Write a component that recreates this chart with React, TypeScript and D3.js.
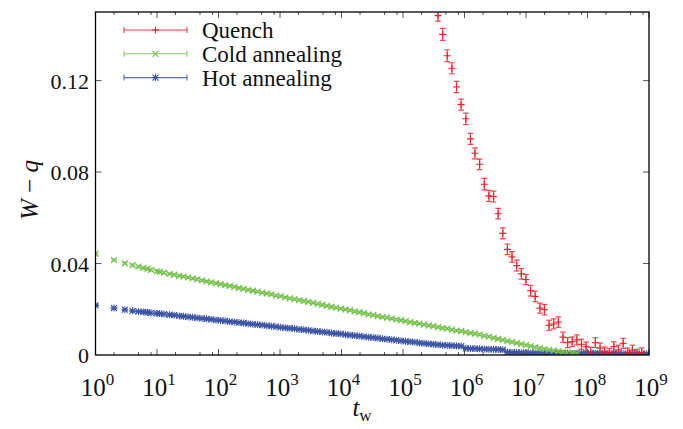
import React from "react";
import * as d3 from "d3";

// waiting times (shared grid)
const TW = [1,2,3,4,5,6,7,8,10,11,13,16,19,23,27,32,38,45,54,64,76,91,108,128,152,181,215,256,304,362,431,512,609,724,861,1024,1218,1448,1722,2048,2436,2896,3444,4096,4871,5793,6889,8192,9742,1.16e4,1.38e4,1.64e4,1.95e4,2.32e4,2.76e4,3.28e4,3.90e4,4.63e4,5.51e4,6.55e4,7.79e4,9.27e4,1.10e5,1.31e5,1.56e5,1.85e5,2.20e5,2.62e5,3.12e5,3.71e5,4.41e5,5.24e5,6.23e5,7.41e5,8.82e5,1.05e6,1.25e6,1.48e6,1.76e6,2.10e6,2.49e6,2.97e6,3.53e6,4.19e6,4.99e6,5.93e6,7.05e6,8.39e6,9.98e6,1.19e7,1.41e7,1.68e7,2.00e7,2.37e7,2.82e7,3.36e7,3.99e7,4.75e7,5.64e7,6.71e7,7.98e7,9.49e7,1.13e8,1.34e8,1.60e8,1.90e8,2.26e8,2.68e8,3.19e8,3.80e8,4.51e8,5.37e8,6.38e8,7.59e8,9.03e8];

const COLD_W = [0.0443,0.0415,0.0401,0.0393,0.0386,0.0381,0.0377,0.0372,0.0366,0.0364,0.0360,0.0355,0.0351,0.0346,0.0343,0.0339,0.0335,0.0331,0.0326,0.0322,0.0318,0.0314,0.0310,0.0306,0.0302,0.0298,0.0293,0.0289,0.0285,0.0281,0.0277,0.0273,0.0269,0.0265,0.0260,0.0257,0.0252,0.0248,0.0244,0.0240,0.0236,0.0232,0.0228,0.0224,0.0219,0.0215,0.0211,0.0207,0.0203,0.0199,0.0195,0.0191,0.0187,0.0183,0.0178,0.0174,0.0170,0.0166,0.0163,0.0159,0.0155,0.0152,0.0148,0.0144,0.0140,0.0137,0.0133,0.0129,0.0126,0.0122,0.0118,0.0115,0.0111,0.0107,0.0104,0.0100,0.0096,0.0093,0.0089,0.0084,0.0080,0.0075,0.0070,0.0066,0.0061,0.0057,0.0052,0.0048,0.0043,0.0039,0.0034,0.0030,0.0026,0.0022,0.0019,0.0016,0.0013,0.0010,0.0008,0.0006];

const HOT_W = [0.0217,0.0205,0.0198,0.0193,0.0190,0.0188,0.0186,0.0184,0.0182,0.0181,0.0179,0.0176,0.0174,0.0171,0.0169,0.0167,0.0165,0.0162,0.0160,0.0158,0.0156,0.0153,0.0151,0.0149,0.0146,0.0144,0.0142,0.0140,0.0137,0.0135,0.0133,0.0131,0.0128,0.0126,0.0124,0.0121,0.0119,0.0117,0.0115,0.0112,0.0110,0.0108,0.0105,0.0103,0.0101,0.0099,0.0096,0.0094,0.0092,0.0089,0.0087,0.0085,0.0083,0.0080,0.0078,0.0076,0.0074,0.0071,0.0069,0.0067,0.0065,0.0062,0.0060,0.0058,0.0056,0.0053,0.0051,0.0049,0.0047,0.0045,0.0043,0.0042,0.0041,0.0040,0.0039,0.0029,0.0028,0.0028,0.0027,0.0026,0.0025,0.0025,0.0024,0.0023,0.0012,0.0011,0.0011,0.0010,0.0010,0.0009,0.0009,0.0009,0.0008,0.0008,0.0008,0.0009,0.0008,0.0008,0.0007,0.0008,0.0008,0.0007,0.0007,0.0008,0.0007,0.0007,0.0006,0.0007,0.0007,0.0006,0.0006,0.0007,0.0006,0.0006,0.0006];

const QUENCH_T = [3.71e5,4.41e5,5.24e5,6.23e5,7.41e5,8.82e5,1.05e6,1.25e6,1.48e6,1.76e6,2.10e6,2.49e6,2.97e6,3.53e6,4.19e6,4.99e6,5.93e6,7.05e6,8.39e6,9.98e6,1.19e7,1.41e7,1.68e7,2.00e7,2.37e7,2.82e7,3.36e7,3.99e7,4.75e7,5.64e7,6.71e7,7.98e7,9.49e7,1.13e8,1.34e8,1.60e8,1.90e8,2.26e8,2.68e8,3.19e8,3.80e8,4.51e8,5.37e8,6.38e8,7.59e8];
const QUENCH_W = [0.1484,0.1402,0.1309,0.1254,0.1172,0.1095,0.1033,0.0945,0.0882,0.0834,0.0747,0.0696,0.0693,0.0618,0.0532,0.0462,0.0429,0.0391,0.0355,0.0330,0.0281,0.0256,0.0205,0.0198,0.0130,0.0136,0.0144,0.0078,0.0054,0.0058,0.0066,0.0047,0.0036,0.0012,0.0054,0.0030,0.0014,0.0008,0.0036,0.0022,0.0051,0.0010,0.0022,0.0004,0.0010];
const QUENCH_ERR = [0.0024,0.0026,0.0026,0.0024,0.0025,0.0024,0.0025,0.0024,0.0024,0.0023,0.0025,0.0024,0.0024,0.0023,0.0024,0.0023,0.0023,0.0024,0.0023,0.0022,0.0023,0.0023,0.0022,0.0023,0.0022,0.0022,0.0023,0.0022,0.0022,0.0021,0.0022,0.0022,0.0021,0.0022,0.0021,0.0022,0.0021,0.0021,0.0022,0.0021,0.0022,0.0021,0.0021,0.0021,0.0021];
const SMALL_ERR = 0.0004;

const LEGEND = ["Quench", "Cold annealing", "Hot annealing"];
const COLORS = ["#ee1d26", "#6fc144", "#3a53a4"];
const X_TICKS = [0, 1, 2, 3, 4, 5, 6, 7, 8, 9];
const Y_TICKS = [0, 0.04, 0.08, 0.12];
const Y_LABELS = ["0", "0.04", "0.08", "0.12"];

const W = 683, H = 429;
const M = { left: 95.5, right: 649, top: 12, bottom: 355 };
const FONT = "'Liberation Serif','Times New Roman',Times,serif";

function Marker({ kind, x, y, color }: { kind: string; x: number; y: number; color: string }) {
  const s = 3;
  const segs: [number, number, number, number][] = [];
  if (kind === "plus" || kind === "star") {
    segs.push([x - s - 0.5, y, x + s + 0.5, y], [x, y - s - 0.5, x, y + s + 0.5]);
  }
  if (kind === "cross" || kind === "star") {
    segs.push([x - s, y - s, x + s, y + s], [x - s, y + s, x + s, y - s]);
  }
  return (
    <g stroke={color} strokeWidth={1.1}>
      {segs.map((d, i) => <line key={i} x1={d[0]} y1={d[1]} x2={d[2]} y2={d[3]} />)}
    </g>
  );
}

export default function App() {
  const x = d3.scaleLog().domain([1, 1e9]).range([M.left, M.right]);
  const y = d3.scaleLinear().domain([0, 0.15]).range([M.bottom, M.top]);

  const series = [
    { t: QUENCH_T, w: QUENCH_W, e: QUENCH_ERR, kind: "plus", color: COLORS[0] },
    { t: TW.slice(0, COLD_W.length), w: COLD_W, e: COLD_W.map(() => SMALL_ERR), kind: "cross", color: COLORS[1] },
    { t: TW.slice(0, HOT_W.length), w: HOT_W, e: HOT_W.map(() => SMALL_ERR), kind: "star", color: COLORS[2] },
  ];

  const minor: number[] = [];
  for (let d = 0; d < 9; d++) for (const m of [2, 5, 8]) minor.push(m * Math.pow(10, d));

  const cap = 2.8;
  const tickColor = "#555";

  return (
    <svg width={W} height={H} style={{ position: "absolute", left: 0, top: 0, background: "#fff" }} fontFamily={FONT}>
      <defs>
        <clipPath id="plotclip">
          <rect x={M.left} y={M.top} width={M.right - M.left} height={M.bottom - M.top} />
        </clipPath>
      </defs>
      <rect x={0} y={0} width={W} height={H} fill="#fff" />

      <g clipPath="url(#plotclip)">
        {[2, 1, 0].map((si) => {
          const s = series[si];
          return (
            <g key={si}>
              {s.t.map((t, i) => {
                const cx = x(t);
                const y1 = y(s.w[i] + s.e[i]);
                const y2 = y(s.w[i] - s.e[i]);
                return (
                  <g key={i} stroke={s.color} strokeWidth={1.2} strokeOpacity={0.8}>
                    <line x1={cx} x2={cx} y1={y1} y2={y2} />
                    <line x1={cx - cap} x2={cx + cap} y1={y1} y2={y1} />
                    <line x1={cx - cap} x2={cx + cap} y1={y2} y2={y2} />
                  </g>
                );
              })}
              {s.t.map((t, i) => (
                <Marker key={"m" + i} kind={s.kind} x={x(t)} y={y(s.w[i])} color={s.color} />
              ))}
            </g>
          );
        })}
      </g>

      {/* ticks */}
      <g stroke={tickColor} strokeWidth={1}>
        {X_TICKS.map((p) => {
          const px = x(Math.pow(10, p));
          return (
            <g key={"xt" + p}>
              <line x1={px} x2={px} y1={M.bottom} y2={M.bottom - 6} />
              <line x1={px} x2={px} y1={M.top} y2={M.top + 6} />
            </g>
          );
        })}
        {minor.map((v, i) => {
          const px = x(v);
          return (
            <g key={"mt" + i}>
              <line x1={px} x2={px} y1={M.bottom} y2={M.bottom - 3} />
              <line x1={px} x2={px} y1={M.top} y2={M.top + 3} />
            </g>
          );
        })}
        {Y_TICKS.slice(1).map((v) => (
          <g key={"yt" + v}>
            <line x1={M.left} x2={M.left + 6} y1={y(v)} y2={y(v)} />
            <line x1={M.right} x2={M.right - 6} y1={y(v)} y2={y(v)} />
          </g>
        ))}
      </g>

      <rect x={M.left} y={M.top} width={M.right - M.left} height={M.bottom - M.top} fill="none" stroke="#000" strokeWidth={1.3} />

      {/* y tick labels */}
      {Y_TICKS.map((v, i) => (
        <text key={"yl" + i} x={89} y={y(v) + 8} textAnchor="end" fontSize={22} fill="#111">{Y_LABELS[i]}</text>
      ))}

      {/* x tick labels */}
      {X_TICKS.map((p) => (
        <text key={"xl" + p} x={x(Math.pow(10, p)) + 2} y={396} textAnchor="middle" fontSize={25} fill="#111">
          10<tspan dy={-11} fontSize={17}>{p}</tspan>
        </text>
      ))}

      {/* axis titles */}
      <text transform="translate(38,190) rotate(-90)" textAnchor="middle" fontSize={25} fill="#111">
        <tspan fontStyle="italic">W</tspan>
        <tspan> − </tspan>
        <tspan fontStyle="italic">q</tspan>
      </text>
      <text x={362} y={416} textAnchor="middle" fontSize={25} fill="#111">
        <tspan fontStyle="italic">t</tspan>
        <tspan dy={5} fontSize={17}>w</tspan>
      </text>

      {/* legend */}
      {LEGEND.map((name, i) => {
        const ly = 30 + i * 23.8;
        const kinds = ["plus", "cross", "star"];
        return (
          <g key={"lg" + i}>
            <g stroke={COLORS[i]} strokeWidth={1.1} strokeOpacity={0.85}>
              <line x1={124} x2={187} y1={ly} y2={ly} />
              <line x1={124} x2={124} y1={ly - 3} y2={ly + 3} />
              <line x1={187} x2={187} y1={ly - 3} y2={ly + 3} />
            </g>
            <Marker kind={kinds[i]} x={155.5} y={ly} color={COLORS[i]} />
            <text x={202} y={ly + 8} fontSize={23} fill="#111">{name}</text>
          </g>
        );
      })}
    </svg>
  );
}
